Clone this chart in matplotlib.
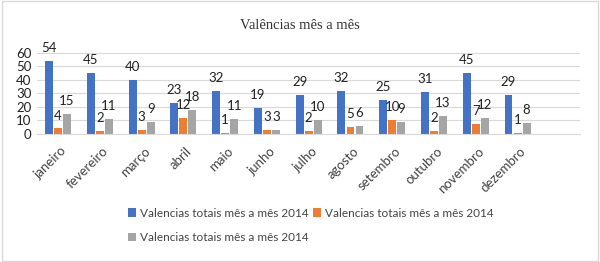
import matplotlib.pyplot as plt
import numpy as np

# dados
meses = ["janeiro", "fevereiro", "março", "abril", "maio", "junho",
         "julho", "agosto", "setembro", "outubro", "novembro", "dezembro"]
serie1 = [54, 45, 40, 23, 32, 19, 29, 32, 25, 31, 45, 29]
serie2 = [4, 2, 3, 12, 1, 3, 2, 5, 10, 2, 7, 1]
serie3 = [15, 11, 9, 18, 11, 3, 10, 6, 9, 13, 12, 8]
nome = "Valencias totais mês a mês 2014"

cores = ["#4472C4", "#ED7D31", "#A5A5A5"]
fonte = ["Lato", "DejaVu Sans"]

fig = plt.figure(figsize=(6, 2.62), dpi=100)
ax = fig.add_axes([0.062, 0.489, 0.905, 0.309])

x = np.arange(len(meses))
w = 0.19
off = 0.216
barras = []
for i, (vals, cor) in enumerate(zip([serie1, serie2, serie3], cores)):
    b = ax.bar(x + (i - 1) * off, vals, width=w, color=cor, label=nome)
    barras.append(b)
    for xi, v in zip(x + (i - 1) * off, vals):
        ax.annotate(str(v), (xi, v), xytext=(0, 5), textcoords="offset points",
                    ha="center", va="bottom", fontsize=9.5, family=fonte,
                    color="#222222")

ax.set_xlim(-0.5, 12.5)
ax.set_ylim(0, 60)
ax.set_yticks(range(0, 61, 10))
ax.set_xticks(x + 0.05)
ax.set_xticklabels(meses, rotation=45, ha="right", rotation_mode="anchor",
                   fontsize=9.5, family=fonte, color="#444444")
for t in ax.get_yticklabels():
    t.set_family(fonte)
ax.tick_params(axis="y", labelsize=9.5, colors="#222222", length=0, pad=4)
ax.tick_params(axis="x", length=0, pad=8)
ax.grid(axis="y", color="#D9D9D9", linewidth=0.8)
ax.set_axisbelow(True)
for s in ["top", "right", "left"]:
    ax.spines[s].set_visible(False)
ax.spines["bottom"].set_color("#D9D9D9")

fig.text(0.5, 0.903, "Valências mês a mês", ha="center", va="center",
         fontsize=10.5, family="Liberation Serif", color="#333333")

# legenda em duas linhas
leg = dict(frameon=False, prop={"family": fonte, "size": 8.5},
           handlelength=0.7, handleheight=0.7, handletextpad=0.3,
           borderaxespad=0, labelcolor="#444444", loc="center left")
fig.legend(handles=barras[:2], labels=[nome, nome],
           bbox_to_anchor=(0.205, 0.187), ncol=2, columnspacing=0.4, **leg)
fig.legend(handles=barras[2:], labels=[nome],
           bbox_to_anchor=(0.205, 0.092), **leg)

# moldura
fig.patches.append(plt.Rectangle((0.003, 0.005), 0.994, 0.99, transform=fig.transFigure,
                                 fill=False, edgecolor="#D9D9D9", linewidth=1))

fig.savefig("out.png", dpi=100)
